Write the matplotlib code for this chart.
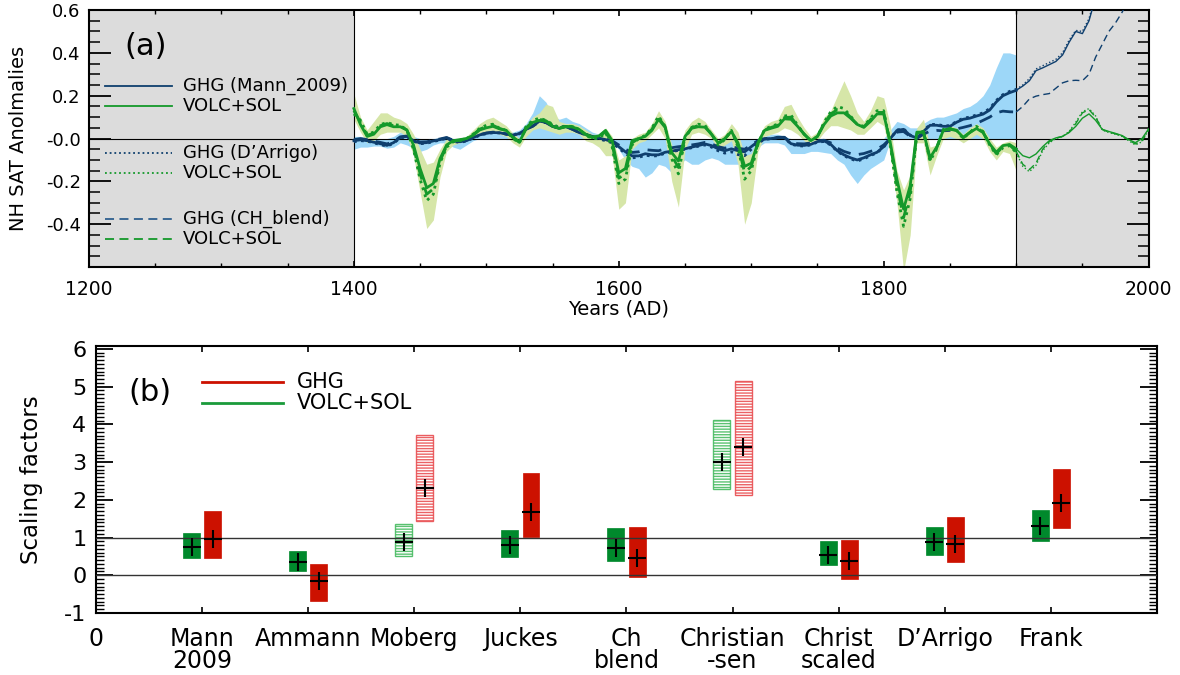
import numpy as np
import matplotlib
matplotlib.use("Agg")
import matplotlib.pyplot as plt
from matplotlib.ticker import MultipleLocator, FixedLocator

plt.rcParams['font.family'] = ['DejaVu Sans']
plt.rcParams['axes.unicode_minus'] = False

# ---- panel (a): NH SAT anomalies, read every 5 years 1400..2000 ----
years = np.arange(1400, 2001, 5)
nan = np.nan

# GHG responses (Mann_2009 solid, D'Arrigo dotted, CH_blend dashed)
ghg_mann = [
    -0.01, -0.006, -0.01, -0.017, -0.024, -0.032, -0.019, 0.005, 0.01, -0.01,
    -0.021, -0.019, -0.011, -0.005, 0.003, -0.011, -0.015, -0.01, 0.004, 0.017,
    0.025, 0.028, 0.027, 0.021, 0.014, 0.024, 0.043, 0.057, 0.081, 0.076,
    0.057, 0.048, 0.057, 0.043, 0.028, 0.019, 0.008, 0.002, -0.005, -0.015,
    -0.038, -0.062, -0.081, -0.081, -0.071, -0.076, -0.076, -0.064, -0.059, -0.052,
    -0.048, -0.04, -0.033, -0.025, -0.033, -0.048, -0.057, -0.048, -0.057, -0.062,
    -0.038, -0.014, -0.003, 0.0, 0.004, 0.005, -0.024, -0.031, -0.032, -0.027,
    -0.014, -0.011, -0.027, -0.057, -0.076, -0.09, -0.1, -0.09, -0.076, -0.064,
    -0.038, 0.0, 0.038, 0.043, 0.014, 0.003, 0.033, 0.062, 0.062, 0.057,
    0.057, 0.076, 0.09, 0.095, 0.105, 0.114, 0.133, 0.171, 0.2, 0.214,
    0.225, 0.245, 0.27, 0.317, 0.33, 0.345, 0.36, 0.39, 0.45, 0.5,
    0.49, 0.55, 0.66, nan, nan, nan, nan, nan, nan, nan,
    nan]
ghg_darr = [
    -0.015, -0.01, -0.012, -0.02, -0.028, -0.036, -0.022, 0.003, 0.008, -0.012,
    -0.024, -0.022, -0.014, -0.007, 0.001, -0.014, -0.018, -0.012, 0.002, 0.015,
    0.023, 0.027, 0.026, 0.02, 0.012, 0.022, 0.045, 0.062, 0.09, 0.082,
    0.06, 0.05, 0.06, 0.045, 0.028, 0.017, 0.005, -0.002, -0.01, -0.02,
    -0.045, -0.07, -0.09, -0.088, -0.078, -0.082, -0.08, -0.068, -0.062, -0.055,
    -0.05, -0.043, -0.036, -0.03, -0.04, -0.057, -0.068, -0.062, -0.075, -0.08,
    -0.05, -0.02, -0.005, 0.0, 0.004, 0.004, -0.026, -0.034, -0.035, -0.03,
    -0.016, -0.014, -0.03, -0.06, -0.08, -0.095, -0.105, -0.095, -0.08, -0.066,
    -0.04, 0.0, 0.04, 0.045, 0.016, 0.005, 0.036, 0.066, 0.066, 0.06,
    0.06, 0.08, 0.095, 0.1, 0.11, 0.12, 0.14, 0.178, 0.205, 0.22,
    0.23, 0.25, 0.28, 0.325, 0.34, 0.355, 0.37, 0.4, 0.46, 0.505,
    0.5, 0.56, 0.67, nan, nan, nan, nan, nan, nan, nan,
    nan]
ghg_chb = [
    -0.005, 0.0, -0.005, -0.012, -0.018, -0.025, -0.014, 0.008, 0.012, -0.006,
    -0.016, -0.015, -0.008, -0.002, 0.005, -0.008, -0.012, -0.007, 0.006, 0.018,
    0.026, 0.03, 0.028, 0.022, 0.016, 0.026, 0.045, 0.058, 0.078, 0.074,
    0.057, 0.048, 0.056, 0.043, 0.03, 0.02, 0.01, 0.004, -0.002, -0.01,
    -0.03, -0.05, -0.065, -0.062, -0.052, -0.055, -0.057, -0.048, -0.043, -0.038,
    -0.035, -0.03, -0.025, -0.018, -0.025, -0.038, -0.045, -0.038, -0.045, -0.05,
    -0.03, -0.01, 0.0, 0.002, 0.006, 0.006, -0.018, -0.024, -0.025, -0.02,
    -0.01, -0.008, -0.02, -0.045, -0.06, -0.07, -0.075, -0.07, -0.06, -0.05,
    -0.03, 0.0, 0.03, 0.033, 0.01, 0.0, 0.02, 0.035, 0.038, 0.036,
    0.038, 0.045, 0.052, 0.06, 0.07, 0.085, 0.1, 0.12, 0.128, 0.125,
    0.124, 0.15, 0.185, 0.198, 0.205, 0.21, 0.235, 0.26, 0.27, 0.272,
    0.27, 0.3, 0.38, 0.44, 0.5, 0.54, 0.59, 0.65, nan, nan,
    nan]

# VOLC+SOL responses
volc_mann = [
    0.14, 0.065, 0.01, 0.02, 0.055, 0.065, 0.055, 0.055, 0.04, -0.03,
    -0.14, -0.23, -0.21, -0.095, -0.03, -0.01, -0.005, 0.0, 0.015, 0.04,
    0.05, 0.057, 0.045, 0.038, 0.007, -0.015, 0.045, 0.075, 0.085, 0.08,
    0.057, 0.047, 0.055, 0.054, 0.043, 0.02, 0.007, 0.012, 0.038, -0.01,
    -0.16, -0.14, -0.01, 0.0, 0.01, 0.038, 0.09, 0.052, -0.066, -0.105,
    0.01, 0.048, 0.055, 0.053, 0.02, -0.02, 0.0, 0.033, -0.02, -0.13,
    -0.115, -0.02, 0.038, 0.048, 0.057, 0.092, 0.09, 0.057, 0.02, -0.01,
    0.01, 0.066, 0.105, 0.12, 0.12, 0.095, 0.066, 0.052, 0.08, 0.115,
    0.115, -0.02, -0.19, -0.33, -0.22, 0.03, 0.03, -0.09, -0.04, 0.038,
    0.043, 0.038, 0.006, 0.028, 0.047, 0.028, -0.025, -0.064, -0.033, -0.028,
    -0.048, -0.08, -0.09, -0.072, -0.038, -0.01, 0.003, 0.01, 0.028, 0.057,
    0.095, 0.115, 0.085, 0.043, 0.033, 0.024, 0.014, -0.005, -0.019, 0.0,
    0.045]
volc_darr = [
    0.115, 0.085, 0.02, 0.03, 0.065, 0.075, 0.065, 0.062, 0.04, -0.05,
    -0.19, -0.29, -0.26, -0.115, -0.04, -0.015, -0.01, 0.0, 0.02, 0.048,
    0.062, 0.067, 0.048, 0.038, 0.0, -0.02, 0.057, 0.085, 0.095, 0.085,
    0.067, 0.052, 0.057, 0.057, 0.043, 0.015, 0.0, 0.0, 0.028, -0.04,
    -0.21, -0.19, -0.03, 0.0, 0.015, 0.048, 0.105, 0.057, -0.095, -0.165,
    0.0, 0.052, 0.067, 0.062, 0.02, -0.03, -0.005, 0.038, -0.04, -0.19,
    -0.15, -0.03, 0.043, 0.057, 0.067, 0.105, 0.11, 0.062, 0.02, -0.01,
    0.01, 0.076, 0.125, 0.15, 0.14, 0.105, 0.066, 0.057, 0.095, 0.13,
    0.13, -0.03, -0.25, -0.41, -0.28, 0.02, 0.033, -0.105, -0.048, 0.043,
    0.048, 0.038, 0.0, 0.028, 0.057, 0.033, -0.03, -0.076, -0.043, -0.033,
    -0.065, -0.13, -0.155, -0.125, -0.057, -0.02, 0.0, 0.01, 0.033, 0.076,
    0.125, 0.14, 0.105, 0.04, 0.028, 0.02, 0.01, -0.01, -0.03, -0.015,
    0.04]
volc_chb = [
    0.13, 0.075, 0.015, 0.025, 0.06, 0.07, 0.06, 0.058, 0.04, -0.04,
    -0.165, -0.26, -0.235, -0.105, -0.035, -0.012, -0.008, 0.0, 0.018, 0.044,
    0.056, 0.062, 0.047, 0.038, 0.004, -0.018, 0.05, 0.08, 0.09, 0.083,
    0.062, 0.05, 0.056, 0.056, 0.043, 0.018, 0.004, 0.006, 0.033, -0.025,
    -0.185, -0.165, -0.02, 0.0, 0.012, 0.043, 0.098, 0.055, -0.08, -0.135,
    0.005, 0.05, 0.061, 0.058, 0.02, -0.025, -0.003, 0.036, -0.03, -0.16,
    -0.13, -0.025, 0.04, 0.052, 0.062, 0.098, 0.1, 0.06, 0.02, -0.01,
    0.01, 0.071, 0.115, 0.135, 0.13, 0.1, 0.066, 0.055, 0.088, 0.122,
    0.122, -0.025, -0.22, -0.37, -0.25, 0.025, 0.032, -0.098, -0.044, 0.04,
    0.046, 0.038, 0.003, 0.028, 0.052, 0.03, -0.028, -0.07, -0.038, -0.03,
    -0.06, -0.12, -0.145, -0.115, -0.05, -0.015, 0.002, 0.01, 0.03, 0.07,
    0.12, 0.135, 0.1, 0.042, 0.03, 0.022, 0.012, -0.008, -0.025, -0.01,
    0.042]

# uncertainty bands 1400..1900
band_years = np.arange(1400, 1901, 5)
ghg_band_hi = [
    0.01, 0.01, 0.0, 0.0, 0.0, 0.0, 0.01, 0.03, 0.03, 0.01,
    0.0, 0.0, 0.0, 0.005, 0.01, 0.0, 0.0, 0.005, 0.02, 0.035,
    0.04, 0.04, 0.035, 0.03, 0.03, 0.04, 0.07, 0.12, 0.2, 0.17,
    0.11, 0.09, 0.1, 0.08, 0.07, 0.05, 0.03, 0.02, 0.0, 0.0,
    0.0, 0.0, 0.0, 0.0, 0.0, 0.0, 0.0, 0.0, 0.0, 0.0,
    0.0, 0.0, 0.0, 0.0, 0.0, 0.0, 0.0, 0.0, 0.0, 0.0,
    0.0, 0.0, 0.01, 0.02, 0.02, 0.01, 0.0, 0.0, 0.0, 0.0,
    0.0, 0.0, 0.0, 0.0, 0.0, 0.0, 0.0, 0.0, 0.0, 0.0,
    0.0, 0.04, 0.08, 0.07, 0.05, 0.05, 0.07, 0.09, 0.1, 0.1,
    0.11, 0.12, 0.14, 0.15, 0.17, 0.2, 0.25, 0.33, 0.4, 0.4,
    0.39]
ghg_band_lo = [
    -0.05, -0.04, -0.04, -0.035, -0.035, -0.045, -0.04, -0.02, -0.03, -0.045,
    -0.06, -0.05, -0.03, -0.02, -0.02, -0.04, -0.05, -0.03, -0.01, 0.0,
    0.0, 0.0, 0.0, -0.005, -0.005, 0.0, 0.0, 0.0, 0.0, 0.0,
    0.0, 0.0, 0.0, 0.0, 0.0, 0.0, 0.0, 0.0, 0.0, -0.02,
    -0.05, -0.1, -0.13, -0.14, -0.18, -0.16, -0.12, -0.13, -0.16, -0.12,
    -0.1, -0.12, -0.12, -0.1, -0.09, -0.1, -0.12, -0.12, -0.12, -0.11,
    -0.08, -0.04, -0.02, -0.02, -0.02, -0.03, -0.07, -0.07, -0.07, -0.06,
    -0.06, -0.065, -0.07, -0.1, -0.12, -0.17, -0.21, -0.17, -0.14, -0.12,
    -0.1, -0.01, 0.0, 0.0, 0.0, 0.0, 0.0, 0.0, 0.0, 0.0,
    0.0, 0.0, 0.0, 0.0, 0.0, 0.0, 0.0, 0.0, 0.0, 0.0,
    0.0]
volc_band_hi = [
    0.21, 0.1, 0.04, 0.08, 0.12, 0.12, 0.1, 0.09, 0.07, 0.02,
    -0.05, -0.12, -0.11, -0.05, 0.0, 0.0, 0.0, 0.01, 0.04, 0.07,
    0.09, 0.1, 0.08, 0.06, 0.025, 0.0, 0.06, 0.1, 0.12, 0.16,
    0.15, 0.08, 0.07, 0.07, 0.06, 0.04, 0.02, 0.02, 0.05, 0.01,
    -0.1, -0.08, 0.0, 0.02, 0.03, 0.07, 0.13, 0.08, -0.03, -0.06,
    0.04, 0.08, 0.1, 0.08, 0.04, 0.0, 0.02, 0.07, 0.03, -0.08,
    -0.07, 0.0, 0.06, 0.08, 0.09, 0.15, 0.16, 0.1, 0.05, 0.01,
    0.03, 0.1, 0.13, 0.2, 0.27, 0.2, 0.12, 0.08, 0.13, 0.2,
    0.19, 0.06, -0.15, -0.24, -0.17, 0.05, 0.09, -0.04, -0.03, 0.04,
    0.06, 0.05, 0.02, 0.05, 0.07, 0.05, 0.0, -0.04, -0.02, -0.01,
    -0.02]
volc_band_lo = [
    0.09, 0.03, -0.02, -0.01, 0.02, 0.03, 0.03, 0.03, 0.01, -0.08,
    -0.25, -0.42, -0.38, -0.18, -0.06, -0.03, -0.02, -0.01, 0.0, 0.02,
    0.03, 0.03, 0.02, 0.01, -0.02, -0.04, 0.01, 0.04, 0.05, 0.04,
    0.03, 0.02, 0.03, 0.03, 0.02, -0.01, -0.02, -0.04, -0.08, -0.08,
    -0.33, -0.3, -0.05, -0.02, -0.01, 0.02, 0.05, 0.0, -0.2, -0.32,
    -0.05, 0.02, 0.03, 0.02, 0.0, -0.05, -0.03, -0.01, -0.12, -0.4,
    -0.3, -0.06, 0.01, 0.02, 0.03, 0.05, 0.04, 0.02, -0.01, -0.03,
    -0.01, 0.03, 0.06, 0.06, 0.05, 0.04, 0.02, 0.02, 0.05, 0.08,
    0.06, -0.08, -0.3, -0.62, -0.45, -0.02, -0.02, -0.17, -0.08, 0.0,
    0.01, 0.0, -0.02, 0.0, 0.02, 0.0, -0.06, -0.1, -0.06, -0.07,
    -0.15]

# ---- panel (b): scaling factors ----
recons = ['Mann\n2009', 'Ammann', 'Moberg', 'Juckes', 'Ch\nblend',
          'Christian\n-sen', 'Christ\nscaled', 'D\u2019Arrigo', 'Frank']
volc_best = [0.75, 0.35, 0.88, 0.81, 0.73, 3.0, 0.53, 0.88, 1.3]
volc_lo = [0.47, 0.11, 0.51, 0.49, 0.38, 2.29, 0.27, 0.55, 0.9]
volc_hi = [1.13, 0.65, 1.35, 1.2, 1.24, 4.12, 0.9, 1.27, 1.73]
ghg_best = [0.97, -0.15, 2.32, 1.68, 0.47, 3.39, 0.37, 0.83, 1.92]
ghg_lo = [0.47, -0.68, 1.43, 1.02, -0.04, 2.12, -0.09, 0.35, 1.25]
ghg_hi = [1.71, 0.31, 3.73, 2.71, 1.29, 5.16, 0.94, 1.55, 2.83]
hatched = [False, False, True, False, False, True, False, False, False]

NAVY = '#0f3f6e'
GREEN = '#14992a'
BLUE_BAND = '#9dd7f8'
GREEN_BAND = '#d6e6a8'
GRAY = '#dcdcdc'
BAR_GREEN = '#00892c'
BAR_RED = '#cc1100'

fig = plt.figure(figsize=(11.8, 6.75), dpi=100)
ax = fig.add_axes([0.0754, 0.6044, 0.898, 0.3807])
bx = fig.add_axes([0.0814, 0.0919, 0.899, 0.3956])

# ---------------- panel (a) ----------------
years = np.asarray(years)
early = years <= 1900
late = years >= 1900
ax.axvspan(1200, 1400, color=GRAY, zorder=0, lw=0)
ax.axvspan(1900, 2000, color=GRAY, zorder=0, lw=0)
ax.fill_between(band_years, ghg_band_lo, ghg_band_hi, color=BLUE_BAND, lw=0, zorder=1)
ax.fill_between(band_years, volc_band_lo, volc_band_hi, color=GREEN_BAND, lw=0, zorder=1.5)
ax.axhline(0, color='black', lw=0.8, zorder=2)
ax.axvline(1400, color='black', lw=0.8, zorder=2)
ax.axvline(1900, color='black', lw=0.8, zorder=2)

styles = {'solid': '-', 'dot': (0, (1, 1.6)), 'dash': (0, (5, 3))}
series = [
    (ghg_mann, NAVY, styles['solid']),
    (ghg_darr, NAVY, styles['dot']),
    (ghg_chb, NAVY, styles['dash']),
    (volc_mann, GREEN, styles['solid']),
    (volc_darr, GREEN, styles['dot']),
    (volc_chb, GREEN, styles['dash']),
]
for vals, col, ls in series:
    vals = np.asarray(vals, dtype=float)
    ax.plot(years[early], vals[early], color=col, ls=ls, lw=2.0, zorder=3)
    ax.plot(years[late], vals[late], color=col, ls=ls, lw=1.0, zorder=3)

ax.set_xlim(1200, 2000)
ax.set_ylim(-0.6, 0.6)
ax.xaxis.set_major_locator(FixedLocator([1200, 1400, 1600, 1800, 2000]))
ax.xaxis.set_minor_locator(MultipleLocator(50))
ax.set_yticks([0.6, 0.4, 0.2, 0.0, -0.2, -0.4])
ax.set_yticklabels(['0.6', '0.4', '0.2', '-0.0', '-0.2', '-0.4'])
ax.yaxis.set_minor_locator(MultipleLocator(0.05))
ax.tick_params(axis='both', which='both', direction='in', top=True, right=True)
ax.tick_params(axis='y', which='major', length=16, width=1.3, labelsize=13, pad=6)
ax.tick_params(axis='y', which='minor', length=8, width=1.1)
ax.tick_params(axis='x', which='major', length=4, width=1.2, labelsize=13.5, pad=9)
ax.tick_params(axis='x', which='minor', length=3, width=1.0)
for s in ax.spines.values():
    s.set_linewidth(1.5)
ax.set_ylabel('NH SAT Anolmalies', fontsize=14)
ax.yaxis.set_label_coords(-0.058, 0.5)
ax.set_xlabel('Years (AD)', fontsize=14)
ax.xaxis.set_label_coords(0.5, -0.125)

ax.text(0.053, 0.86, '(a)', transform=ax.transAxes, fontsize=22, ha='center', va='center')
leg_rows = [
    (0.704, NAVY, styles['solid'], 'GHG (Mann_2009)'),
    (0.626, GREEN, styles['solid'], 'VOLC+SOL'),
    (0.444, NAVY, styles['dot'], 'GHG (D\u2019Arrigo)'),
    (0.366, GREEN, styles['dot'], 'VOLC+SOL'),
    (0.187, '#2f5f8f', styles['dash'], 'GHG (CH_blend)'),
    (0.109, GREEN, styles['dash'], 'VOLC+SOL'),
]
for yf, col, ls, lab in leg_rows:
    ax.plot([0.015, 0.078], [yf, yf], transform=ax.transAxes, color=col, ls=ls, lw=1.3, zorder=4)
    ax.text(0.089, yf, lab, transform=ax.transAxes, fontsize=13, va='center', ha='left')

# ---------------- panel (b) ----------------
pos = np.arange(1, len(recons) + 1)
off = 0.1
w = 0.16
for i, p in enumerate(pos):
    for x, lo, hi, col, light in [(p - off, volc_lo[i], volc_hi[i], BAR_GREEN, '#3fb85a'),
                                  (p + off, ghg_lo[i], ghg_hi[i], BAR_RED, '#e8474a')]:
        if hatched[i]:
            bx.bar(x, hi - lo, bottom=lo, width=w, facecolor='white', edgecolor=light,
                   hatch='------', lw=1.0, alpha=0.85, zorder=2)
        else:
            bx.bar(x, hi - lo, bottom=lo, width=w, color=col, edgecolor=col, lw=0.5, zorder=2)
bx.axhline(0, color='#333333', lw=1.0, zorder=3)
bx.axhline(1, color='#333333', lw=1.0, zorder=3)
bx.plot(pos - off, volc_best, ls='none', marker='+', ms=13, mew=1.5, color='black', zorder=4)
bx.plot(pos + off, ghg_best, ls='none', marker='+', ms=13, mew=1.5, color='black', zorder=4)

bx.text(0.051, 0.825, '(b)', transform=bx.transAxes, fontsize=22, ha='center', va='center')
bx.plot([0.1, 0.176], [0.866, 0.866], transform=bx.transAxes, color='#cc1100', lw=2)
bx.plot([0.1, 0.176], [0.787, 0.787], transform=bx.transAxes, color='#1a9a3a', lw=2)
bx.text(0.189, 0.866, 'GHG', transform=bx.transAxes, fontsize=15, va='center')
bx.text(0.189, 0.787, 'VOLC+SOL', transform=bx.transAxes, fontsize=15, va='center')

bx.set_xlim(0, 10)
bx.set_ylim(-1.0, 6.08)
bx.set_xticks([0] + list(pos))
bx.set_xticklabels(['0'] + recons, fontsize=17, linespacing=0.9)
bx.set_yticks(range(-1, 7))
bx.yaxis.set_minor_locator(MultipleLocator(0.1))
bx.tick_params(axis='both', which='both', direction='in', top=True, right=True)
bx.tick_params(axis='y', which='major', length=12, width=1.3, labelsize=16, pad=7)
bx.tick_params(axis='y', which='minor', length=6, width=1.0)
bx.tick_params(axis='x', which='major', length=4, width=1.2, pad=10)
for s in bx.spines.values():
    s.set_linewidth(1.5)
bx.set_ylabel('Scaling factors', fontsize=16.5)
bx.yaxis.set_label_coords(-0.05, 0.5)

fig.savefig('out.png', dpi=100)
